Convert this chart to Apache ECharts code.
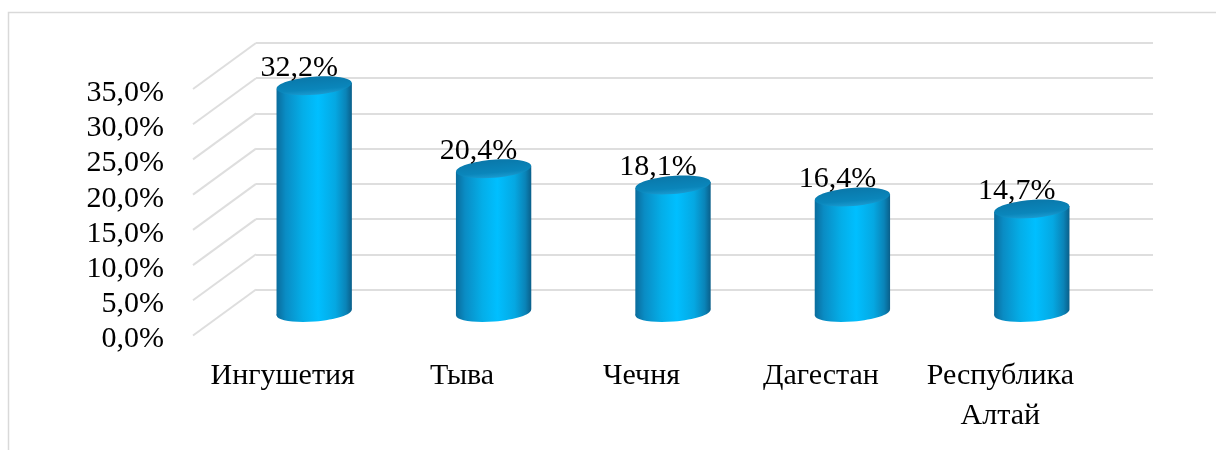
<!DOCTYPE html>
<html>
<head>
<meta charset="utf-8">
<script src="https://cdn.jsdelivr.net/npm/echarts@6/dist/echarts.min.js"></script>
<style>
html,body{margin:0;padding:0;background:#fff;}
#chart{width:1216px;height:450px;}
</style>
</head>
<body>
<div id="chart"></div>
<script>
// ---- data ----
const categories = ['Ингушетия', 'Тыва', 'Чечня', 'Дагестан', 'Республика\nАлтай'];
const values = [32.2, 20.4, 18.1, 16.4, 14.7];
const yTicks = [0, 5, 10, 15, 20, 25, 30, 35];

// ---- layout (3D look via three parallel planes) ----
const DEPTH_X = 63, DEPTH_Y = 46;
const BACK_LEFT = 256, BACK_TOP = 43, PLOT_W = 897, PLOT_H = 246.5;
const FONT = '"Liberation Serif", "Times New Roman", serif';
const FS = 30;
const fmt = v => v.toFixed(1).replace('.', ',') + '%';

const chart = echarts.init(document.getElementById('chart'));

function gridAt(k) { // k: 0 back, 0.5 middle, 1 front
  return { left: BACK_LEFT - DEPTH_X * k, top: BACK_TOP + DEPTH_Y * k, width: PLOT_W, height: PLOT_H };
}
const valAxis = (idx, extra) => Object.assign({
  type: 'value', gridIndex: idx, min: 0, max: 35, interval: 5,
  axisLine: { show: false }, axisTick: { show: false },
  axisLabel: { show: false }, splitLine: { show: false }
}, extra || {});
const catAxis = (idx, extra) => Object.assign({
  type: 'category', gridIndex: idx, data: categories,
  axisLine: { show: false }, axisTick: { show: false },
  axisLabel: { show: false }, splitLine: { show: false }
}, extra || {});

const bodyGrad = new echarts.graphic.LinearGradient(0, 0, 1, 0, [
  { offset: 0, color: '#0a6c9c' },
  { offset: 0.12, color: '#0a8cc4' },
  { offset: 0.35, color: '#04aee8' },
  { offset: 0.55, color: '#00bfff' },
  { offset: 0.78, color: '#05a8e2' },
  { offset: 0.92, color: '#0a84b8' },
  { offset: 1, color: '#0a5f8a' }
]);
const topGrad = new echarts.graphic.LinearGradient(0, 0, 0, 1, [
  { offset: 0, color: '#0a78aa' },
  { offset: 0.7, color: '#0a86bb' },
  { offset: 1, color: '#1a9bd0' }
]);

const option = {
  animation: false,
  backgroundColor: '#fff',
  graphic: [{
    type: 'rect', silent: true, z: -10,
    shape: { x: 8.5, y: 12.5, width: 1400, height: 600 },
    style: { fill: 'none', stroke: '#d9d9d9', lineWidth: 1.5 }
  }],
  grid: [gridAt(0), gridAt(0.5), gridAt(1)],
  xAxis: [
    catAxis(0),
    catAxis(1),
    catAxis(2, { axisLabel: { show: true, interval: 0, margin: 21, color: '#000',
      fontFamily: FONT, fontSize: FS, lineHeight: 40, align: 'center' } })
  ],
  yAxis: [
    valAxis(0, { splitLine: { show: true, lineStyle: { color: '#dedede', width: 2 } } }),
    valAxis(1),
    valAxis(2, { axisLabel: { show: true, margin: 29, color: '#000', fontFamily: FONT,
      fontSize: FS, formatter: v => fmt(v), verticalAlign: 'top', lineHeight: 8 } })
  ],
  series: [
    { // side wall grid lines (front plane to back wall)
      type: 'custom', xAxisIndex: 2, yAxisIndex: 2, silent: true, z: 1,
      data: yTicks.map(v => [0, v]),
      renderItem(params, api) {
        const p = api.coord([0, api.value(1)]);
        const x0 = params.coordSys.x;
        return { type: 'line', shape: { x1: x0, y1: p[1], x2: x0 + DEPTH_X, y2: p[1] - DEPTH_Y },
          style: { stroke: '#dedede', lineWidth: 2 } };
      }
    },
    { // cylinders
      type: 'custom', xAxisIndex: 1, yAxisIndex: 1, z: 5,
      data: values.map((v, i) => [i, v]),
      renderItem(params, api) {
        const i = api.value(0), v = api.value(1);
        const top = api.coord([i, v]);
        const base = api.coord([i, 0]);
        const rx = api.size([1, 0])[0] * 0.42 / 2;
        const ry = 9, rot = 0.08;
        const s = rx * Math.sin(rot);
        const cx = top[0];
        return { type: 'group', children: [
          { type: 'ellipse', x: cx, y: base[1], rotation: rot,
            shape: { cx: 0, cy: 0, rx: rx, ry: ry }, style: { fill: bodyGrad } },
          { type: 'polygon', shape: { points: [
              [cx - rx, top[1] + s], [cx + rx, top[1] - s],
              [cx + rx, base[1] - s], [cx - rx, base[1] + s]] },
            style: { fill: bodyGrad } },
          { type: 'ellipse', x: cx, y: top[1], rotation: rot,
            shape: { cx: 0, cy: 0, rx: rx, ry: ry }, style: { fill: topGrad } },
          { type: 'text', x: cx - 15, y: top[1] - 18,
            style: { text: fmt(v), fill: '#000', font: FS + 'px ' + FONT,
              textAlign: 'center', textVerticalAlign: 'middle' } }
        ] };
      }
    }
  ]
};
chart.setOption(option);
</script>
</body>
</html>
